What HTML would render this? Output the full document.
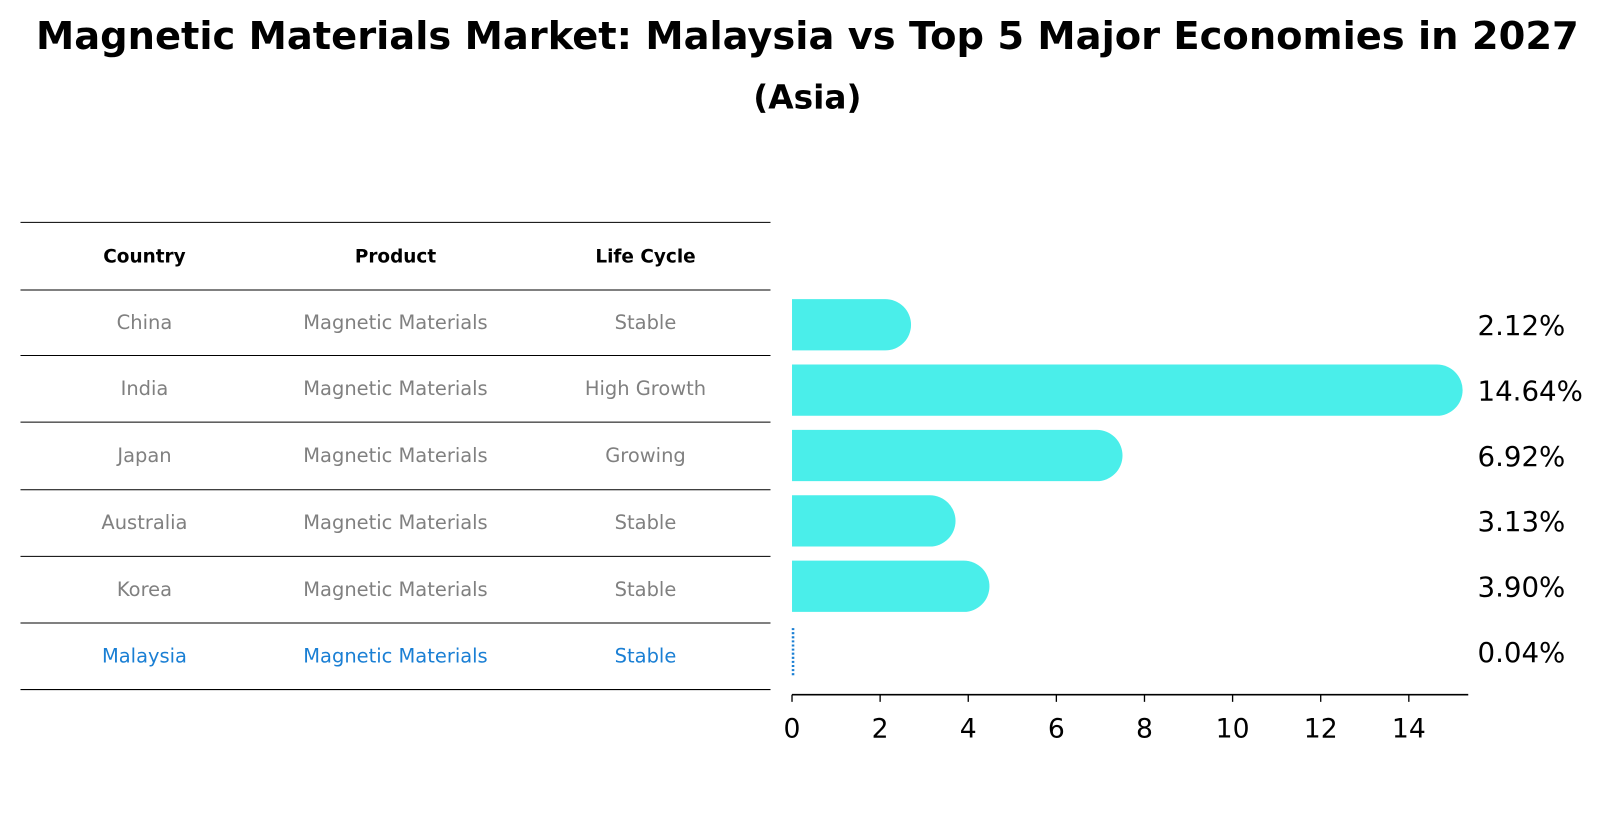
<!DOCTYPE html>
<html><head><meta charset="utf-8"><style>
body{margin:0;background:#fff;font-family:"Liberation Sans","DejaVu Sans",sans-serif}
svg text{font-family:"DejaVu Sans","Liberation Sans",sans-serif}
</style></head><body>
<svg width="1607" height="823">
<g transform="scale(1.0246)">
<text x="788" y="48" text-anchor="middle" font-size="37.5" font-weight="bold">Magnetic Materials Market: Malaysia vs Top 5 Major Economies in 2027</text>
<text x="788" y="106" text-anchor="middle" font-size="32" font-weight="bold">(Asia)</text>
<g id="table"></g>
<g id="bars"></g>
</g>
</svg>
<script>
const countries=["China","India","Japan","Australia","Korea","Malaysia"];
const products=["Magnetic Materials","Magnetic Materials","Magnetic Materials","Magnetic Materials","Magnetic Materials","Magnetic Materials"];
const lifeCycles=["Stable","High Growth","Growing","Stable","Stable","Stable"];
const values=[2.12,14.64,6.92,3.13,3.90,0.04];
const ticks=[0,2,4,6,8,10,12,14];
const NS="http://www.w3.org/2000/svg";
function mk(t,a,p){const e=document.createElementNS(NS,t);for(const k in a)e.setAttribute(k,a[k]);p.appendChild(e);return e;}
const tb=document.getElementById('table'), bg=document.getElementById('bars');
const colX=[141,386,630];
const lineY=[217,283,347,412,478,543,608,673];
lineY.forEach((y,i)=>{const l=mk('line',{x1:20,x2:752,y1:y,y2:y,stroke:'#000','stroke-width':1},tb);

});
["Country","Product","Life Cycle"].forEach((h,i)=>{const t=mk('text',{x:colX[i],y:256,'text-anchor':'middle','font-size':18,'font-weight':'bold'},tb);t.textContent=h;

});
countries.forEach((c,i)=>{const y=(lineY[i+1]+lineY[i+2])/2+6;const col=c==="Malaysia"?"#1a7fd4":"#808080";
[c,products[i],lifeCycles[i]].forEach((v,j)=>{const t=mk('text',{x:colX[j],y:y,'text-anchor':'middle','font-size':19,fill:col},tb);t.textContent=v;

});});
const x0=773, ppu=(1375-773)/14;
const X=v=>x0+v*ppu;
const Y=i=>317+i*63.8;
const h=50;
mk('line',{x1:x0,x2:1433,y1:678,y2:678,stroke:'#000','stroke-width':1.5},bg);
ticks.forEach(t=>{mk('line',{x1:X(t),x2:X(t),y1:678,y2:685,stroke:'#000','stroke-width':1.3},bg);
const tx=mk('text',{x:X(t),y:720,'text-anchor':'middle','font-size':26},bg);tx.textContent=t;

});
values.forEach((v,i)=>{const y=Y(i);let b;
if(countries[i]==="Malaysia"){b=mk('line',{x1:X(0)+1,x2:X(0)+1,y1:y-h/2+2,y2:y+h/2-2,stroke:'#1a7fd4','stroke-width':2.5,'stroke-dasharray':'2 2'},bg);}
else{b=mk('path',{d:`M${X(0)} ${y-h/2} H${X(v)} A${h/2} ${h/2} 0 0 1 ${X(v)} ${y+h/2} H${X(0)} Z`,fill:'#4aeeea'},bg);}


const t=mk('text',{x:1442,y:y+10,'font-size':27},bg);t.textContent=v.toFixed(2)+'%';

});
</script>
</body></html>
